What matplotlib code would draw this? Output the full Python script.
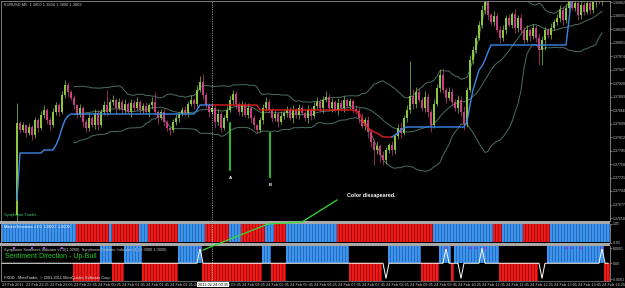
import matplotlib.pyplot as plt
from matplotlib.lines import Line2D
from matplotlib.patches import Rectangle
import numpy as np
import pandas as pd

plt.rcParams['font.family'] = ['Liberation Sans', 'DejaVu Sans']

W, H = 625, 288

# EURUSD M5, prices in points (0.00001) above 1.37800; bar 0 = 23 Feb 21:45
BASE = 1.37800
first_bar = 5
open0 = -144
close_pts = [
    40, 26, 36, 20, 32, 16, 46, 30, 56, 66, 46, 36, 62, 76,
    62, 96, 116, 102, 90, 76, 56, 70, 42, 30, 50, 36, 60, 36,
    62, 76, 62, 82, 86, 70, 82, 66, 78, 62, 80, 70, 82, 66,
    74, 62, 76, 82, 62, 50, 62, 42, 30, 26, 42, 50, 58, 66,
    60, 78, 86, 78, 106, 122, 96, 76, 62, 70, 42, 58, 30, 50,
    66, 86, 98, 78, 62, 76, 56, 70, 50, 36, 26, 46, 70, 82,
    66, 50, 58, 42, 54, 60, 66, 50, 66, 56, 70, 60, 50, 66,
    54, 74, 82, 70, 86, 92, 70, 82, 66, 80, 70, 86, 74, 84,
    68, 64, 50, 34, 46, 22, 2, -14, -6, -24, -34, -14, -4, -14,
    14, 30, 20, 50, 66, 94, 78, 102, 86, 70, 92, 62, 36, 78,
    110, 136, 106, 90, 102, 82, 70, 86, 62, 38, 106, 166, 186, 210,
    236, 266, 282, 256, 242, 254, 226, 210, 226, 250, 236, 258, 230, 250,
    226, 206, 226, 214, 230, 210, 186, 206, 226, 216, 230, 242, 250, 266,
    246, 270, 286, 270, 280, 256, 276, 262, 280, 266, 282, 294, 282, 290,
]
wick_up = [
    40, 4, 6, 2, 8, 4, 6, 4, 8, 10, 4, 6, 8, 6,
    4, 8, 10, 6, 4, 6, 2, 8, 4, 6, 10, 4, 8, 6,
    6, 8, 30, 6, 10, 4, 8, 6, 10, 4, 8, 6, 10, 4,
    6, 8, 4, 10, 20, 4, 6, 8, 4, 2, 6, 8, 4, 6,
    8, 6, 10, 4, 10, 12, 16, 6, 4, 8, 6, 10, 4, 6,
    8, 10, 8, 6, 4, 8, 6, 10, 4, 6, 2, 6, 8, 10,
    6, 4, 8, 6, 10, 4, 8, 6, 10, 4, 8, 6, 4, 10,
    6, 8, 10, 6, 8, 12, 6, 8, 4, 10, 6, 8, 4, 6,
    4, 8, 6, 10, 6, 8, 4, 6, 10, 4, 8, 6, 4, 8,
    6, 8, 12, 6, 10, 70, 14, 10, 8, 6, 12, 8, 6, 10,
    8, 12, 14, 6, 10, 8, 6, 10, 8, 12, 6, 10, 8, 6,
    8, 10, 6, 8, 4, 10, 6, 8, 10, 6, 8, 4, 10, 6,
    8, 6, 10, 4, 8, 6, 10, 8, 6, 4, 10, 6, 8, 10,
    6, 8, 10, 6, 8, 4, 10, 6, 8, 10, 6, 8, 4, 6,
]
wick_dn = [
    12, 6, 4, 8, 4, 10, 6, 8, 4, 6, 8, 10, 4, 6,
    8, 4, 6, 10, 4, 8, 6, 4, 10, 8, 6, 4, 8, 10,
    4, 6, 8, 4, 6, 10, 4, 8, 6, 4, 10, 6, 4, 8,
    6, 4, 10, 8, 6, 12, 4, 8, 6, 10, 4, 6, 8, 4,
    6, 8, 4, 10, 6, 4, 8, 6, 10, 4, 12, 6, 8, 4,
    6, 4, 8, 10, 6, 8, 4, 6, 10, 8, 6, 4, 8, 6,
    4, 8, 6, 10, 4, 6, 8, 4, 10, 6, 8, 4, 6, 10,
    8, 4, 6, 8, 10, 4, 6, 8, 4, 10, 6, 8, 4, 6,
    8, 6, 10, 4, 8, 12, 10, 30, 8, 14, 10, 8, 6, 10,
    8, 6, 10, 4, 8, 6, 10, 8, 4, 6, 8, 10, 14, 6,
    4, 8, 6, 10, 4, 8, 6, 10, 8, 12, 6, 4, 8, 6,
    4, 6, 8, 10, 6, 8, 4, 10, 6, 8, 4, 6, 10, 8,
    6, 8, 4, 10, 6, 8, 30, 30, 20, 6, 8, 4, 6, 8,
    10, 6, 8, 4, 6, 10, 8, 6, 4, 8, 6, 10, 4, 6,
]

# trailing stop line (points), and its colour runs
trend_pts = ([-114] + [-20] * 8 + [-14] * 4 + [-4, 10, 30, 46, 54] + [58] * 42
             + [66] + [76] * 4 + [76] * 16 + [66] * 32
             + [64, 60, 50, 36, 30, 26, 22, 20, 16] + [12] * 3
             + [12, 16, 20, 26, 30] + [32] * 20
             + [42, 76, 106, 126, 146, 154, 166, 182] + [196] * 26 + [246] + [300] * 11)
trend_runs = [("b", 65), ("r", 60), ("b", 71)]

price_ticks = [1.38082, 1.38055, 1.38028, 1.38001, 1.37974, 1.37947, 1.37920,
               1.37893, 1.37866, 1.37839, 1.37812, 1.37785, 1.37758, 1.37731,
               1.37704, 1.37677, 1.37650]

# Market Emotions histogram, runs from bar 0
emotion_runs = [("b", 25), ("r", 11), ("b", 1), ("r", 9), ("b", 3), ("r", 10), ("b", 9),
                ("r", 8), ("b", 4), ("r", 8), ("b", 3), ("r", 4), ("b", 17), ("r", 32),
                ("b", 20), ("r", 3), ("b", 7), ("r", 9), ("b", 20)]

# Sentiment histogram, runs from bar 0
sentiment_runs = [("-", 24), ("r", 9), ("b", 4), ("r", 4), ("b", 6), ("r", 12), ("b", 8),
                  ("r", 20), ("b", 3), ("r", 5), ("b", 21), ("r", 11), ("-", 2), ("b", 11),
                  ("r", 6), ("b", 4), ("r", 1), ("b", 15), ("r", 13), ("-", 3), ("b", 19),
                  ("r", 2)]
spike_up_bars = [66, 148, 160, 200]
spike_down_bars = [128, 153, 180]
extreme_bars = [4, 10, 14, 20, 66, 148, 156, 158, 161, 188, 190, 193, 200]

time_labels = ["23 Feb 2011", "23 Feb 22:25", "23 Feb 23:05", "23 Feb 23:45",
               "24 Feb 00:25", "24 Feb 01:05", "24 Feb 01:45", "24 Feb 02:25",
               "24 Feb 03:05", "24 Feb 03:45", "24 Feb 04:25", "24 Feb 05:05",
               "24 Feb 05:45", "24 Feb 06:25", "24 Feb 07:05", "24 Feb 07:45",
               "24 Feb 08:25", "24 Feb 09:05", "24 Feb 09:45", "24 Feb 10:25",
               "24 Feb 11:05", "24 Feb 11:45", "24 Feb 12:25", "24 Feb 13:05",
               "24 Feb 13:45", "24 Feb 14:25"]
cursor_bar = 70

BULL = '#8cc63f'
BEAR = '#c8407e'
BAND = '#4d6f60'
LINE_BLUE = '#3c86e8'
LINE_RED = '#e01e1e'
HIST = {"b": ('#2a6cc0', '#3b95ec'), "r": ('#a80c0c', '#ee1a1a')}
GRID = '#8c8c8c'
TXT = '#c8c8c8'
XMIN, XMAX = -1 / 3, 608 / 3


def expand(runs):
    out = []
    for state, n in runs:
        out += [state] * n
    return out


fig = plt.figure(figsize=(W / 100, H / 100), dpi=100, facecolor='black')


def px_axes(y0, y1, x0=1, x1=610):
    ax = fig.add_axes([x0 / W, 1 - y1 / H, (x1 - x0) / W, (y1 - y0) / H])
    ax.set_facecolor('black')
    for side in ('top', 'bottom'):
        ax.spines[side].set_visible(False)
    for side in ('left', 'right'):
        ax.spines[side].set_color(GRID)
        ax.spines[side].set_linewidth(0.6)
    ax.set_xlim(XMIN, XMAX)
    ax.yaxis.tick_right()
    ax.tick_params(axis='y', labelsize=2.5, colors=TXT, length=1.2, width=0.4, pad=0.6)
    ax.tick_params(axis='x', length=0)
    ax.set_xticks([])
    return ax


def fig_line(xs, ys, **kw):
    fig.add_artist(Line2D([x / W for x in xs], [1 - y / H for y in ys], **kw))


def fig_text(x, y, s, **kw):
    fig.text(x / W, 1 - y / H, s, **kw)


# ---------------- main price chart ----------------
ax = px_axes(1, 221)
ax.set_ylim(1.37644, 1.38084)

idx = np.arange(first_bar, first_bar + len(close_pts))
closes = BASE + np.array(close_pts) * 1e-5
opens = np.r_[BASE + open0 * 1e-5, closes[:-1]]
body_hi = np.maximum(opens, closes)
body_lo = np.minimum(opens, closes)
highs = body_hi + np.array(wick_up) * 1e-5
lows = body_lo - np.array(wick_dn) * 1e-5
cols = np.where(closes >= opens, BULL, BEAR)

# Bollinger bands (20, 2)
s = pd.Series(closes, index=idx)
mid = s.rolling(20).mean()
sd = s.rolling(20).std(ddof=0)
for band in (mid, mid + 2 * sd, mid - 2 * sd):
    ax.plot(idx, band.values, color=BAND, lw=0.7, zorder=1)

ax.vlines(idx, lows, highs, colors=cols, lw=0.5, zorder=2)
ax.bar(idx, np.maximum(body_hi - body_lo, 1e-5), bottom=body_lo, width=0.62,
       color=cols, lw=0, zorder=3)

trend = BASE + np.array(trend_pts) * 1e-5
start = 0
for state, n in trend_runs:
    end = min(start + n + 1, len(trend))
    ax.plot(idx[start:end], trend[start:end], color=LINE_BLUE if state == "b" else LINE_RED,
            lw=1.0, zorder=4)
    start += n

ax.set_yticks(price_ticks)
ax.set_yticklabels([f"{p:.5f}" for p in price_ticks])
ax.axvline(cursor_bar, color='white', ls=(0, (1, 1.5)), lw=0.5, zorder=5)

# ---------------- Market Emotions ----------------
ax1 = px_axes(223.5, 243)
ax1.set_ylim(-0.05, 1.05)
emo = expand(emotion_runs)
for key in ("b", "r"):
    sel = [i for i, st in enumerate(emo) if st == key]
    ax1.bar(sel, [1] * len(sel), width=1.0, color=HIST[key][0], lw=0)
    ax1.bar(sel, [1] * len(sel), width=0.62, color=HIST[key][1], lw=0)
ax1.set_yticks([1.05, -0.05])
ax1.set_yticklabels(["1.05", "-0.05"])
ax1.axvline(cursor_bar, color='white', ls=(0, (1, 1.5)), lw=0.5)

# ---------------- Sentiment ----------------
ax2 = px_axes(245.5, 281)
ax2.set_ylim(-1, 1)
sent = expand(sentiment_runs)
for key, sign in (("b", 1), ("r", -1)):
    sel = [i for i, st in enumerate(sent) if st == key]
    ax2.bar(sel, [sign] * len(sel), width=1.0, color=HIST[key][0], lw=0)
    ax2.bar(sel, [sign] * len(sel), width=0.62, color=HIST[key][1], lw=0)
white = np.zeros(len(sent))
white[spike_up_bars] = 0.85
white[spike_down_bars] = -0.85
ax2.plot(np.arange(len(sent)), white, color='white', lw=0.7, zorder=4)
ax2.scatter(extreme_bars, [0.85] * len(extreme_bars), s=1.6, marker='s',
            color='#a040f0', lw=0, zorder=5)
ax2.set_yticks([0.85, 0, -0.9])
ax2.set_yticklabels(["0.0001", "0.00", "-0.0001"])
ax2.axvline(cursor_bar, color='white', ls=(0, (1, 1.5)), lw=0.5, zorder=6)

ax2.set_xticks(list(range(0, 8 * len(time_labels), 8)))
ax2.set_xticklabels(time_labels)
ax2.tick_params(axis='x', labelsize=2.8, colors=TXT, length=0, pad=1.2)
for lbl in ax2.get_xticklabels():
    lbl.set_ha('left')

# separators and frame
for y0, y1 in ((221, 223.5), (243, 245.5)):
    fig.add_artist(Rectangle((0, 1 - y1 / H), 610 / W, (y1 - y0) / H,
                             transform=fig.transFigure, color='#a8a8a8', lw=0))
fig_line([1, 610], [0.6, 0.6], color=GRID, lw=0.6)
fig_line([1, 610], [281.3, 281.3], color=GRID, lw=0.5)

# ---------------- texts and annotations ----------------
fig_text(4, 5, "EURUSD,M5  1.3800 1.3804 1.3800 1.3803", fontsize=2.9, color=TXT, va='center')
fig_text(4, 215, "Synphonie Trader", fontsize=3.0, color='#3ecf6e', va='center')
fig_text(4, 227, "Market Emotions v1.0  1.0000  1.0000", fontsize=2.8, color='white', va='center')
fig_text(4, 249.5, "Synphonie Sentiment Indicator v1.0(1.0000)  Synphonie Extreme Indicator v1 (-1.0000 1.0000)",
         fontsize=2.8, color=TXT, va='center')
fig_text(5, 256, "Sentiment Direction - Up-Bull", fontsize=5.0, color='#22cc22', va='center')
fig_text(4, 278, "FXDD - MetaTrader, \u00a9 2001-2011 MetaQuotes Software Corp.", fontsize=2.8,
         color='#e0e0e0', va='center')
fig_text(198, 284.8, "2011.02.24 03:35", fontsize=2.8, color='black', va='center',
         bbox=dict(facecolor='white', edgecolor='none', pad=0.4))

GREEN = '#33dd33'
fig_line([230, 230], [123, 170], color=GREEN, lw=1.2)
fig_line([270, 270], [133, 177], color=GREEN, lw=1.2)
fig_text(230, 178, "A", fontsize=3.2, color='white', fontweight='bold', ha='center', va='center')
fig_text(270, 185, "B", fontsize=3.2, color='white', fontweight='bold', ha='center', va='center')
fig_line([203, 268, 302, 337], [250, 224, 222, 200], color=GREEN, lw=0.9, zorder=10)
fig_text(347, 195, "Color dissapeared.", fontsize=3.9, color='white', fontweight='bold', va='center')

fig.savefig('out.png', dpi=100, facecolor='black')
